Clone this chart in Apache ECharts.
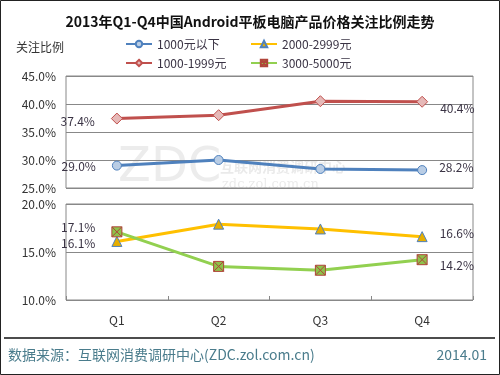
<!DOCTYPE html>
<html><head><meta charset="utf-8">
<script src="https://cdn.jsdelivr.net/npm/echarts@6/dist/echarts.min.js"></script>
<style>html,body{margin:0;padding:0;background:#fff}#c{width:500px;height:375px}</style>
</head><body><div id="c"></div>
<script>
const categories = ['Q1','Q2','Q3','Q4'];
const seriesNames = ['1000元以下','1000-1999元','2000-2999元','3000-5000元'];
const below1000 = [29.0, 30.0, 28.4, 28.2];
const s1000_1999 = [37.4, 38.0, 40.5, 40.4];
const s2000_2999 = [16.1, 17.9, 17.4, 16.6];
const s3000_5000 = [17.1, 13.5, 13.1, 14.2];
const upperTicks = [25, 45, 5];
const lowerTicks = [10, 20, 5];

const FONT = '"Noto Sans CJK SC", "Noto Sans", sans-serif';
const chart = echarts.init(document.getElementById('c'));

function items(arr, leftOff, rightOff) {
  return arr.map((v, i) => {
    if (i === 0) return {value: v, label: {show: true, position: 'left', distance: 16, offset: leftOff}};
    if (i === arr.length - 1) return {value: v, label: {show: true, position: 'right', distance: 12, offset: rightOff}};
    return v;
  });
}
const lbl = {show: false, formatter: p => p.value.toFixed(1) + '%', color: '#3a3344', fontSize: 12, fontFamily: FONT};
const xPath = 'path://M0,0L10,0L10,10L0,10ZM0,0L10,10M10,0L0,10';
const legendText = {fontSize: 12, color: '#3a3344', fontFamily: FONT};

chart.setOption({
  animation: false,
  backgroundColor: '#fff',
  title: {text: '2013年Q1-Q4中国Android平板电脑产品价格关注比例走势', left: 'center', top: 10,
    textStyle: {fontSize: 14, fontWeight: 'bold', color: '#111', fontFamily: FONT}},
  legend: [
    {left: 120, top: 33, orient: 'vertical', itemGap: 7, itemWidth: 26, itemHeight: 8,
     data: [seriesNames[0], seriesNames[1]], textStyle: legendText},
    {left: 245, top: 33, orient: 'vertical', itemGap: 7, itemWidth: 26, itemHeight: 8,
     data: [seriesNames[2], seriesNames[3]], textStyle: legendText}
  ],
  grid: [
    {left: 66, right: 27, top: 76, height: 112, show: true, borderColor: '#888', borderWidth: 1},
    {left: 66, right: 27, top: 204, height: 96, show: true, borderColor: '#888', borderWidth: 1}
  ],
  xAxis: [
    {gridIndex: 0, type: 'category', data: categories, boundaryGap: true, show: false},
    {gridIndex: 1, type: 'category', data: categories, boundaryGap: true,
     axisLine: {show: false}, axisTick: {show: true, inside: true, length: 4, lineStyle: {color: '#888'}},
     axisLabel: {color: '#333', fontSize: 12, margin: 14, fontFamily: FONT}}
  ],
  yAxis: [
    {gridIndex: 0, type: 'value', min: upperTicks[0], max: upperTicks[1], interval: upperTicks[2],
     axisLine: {show: false}, axisTick: {show: false},
     splitLine: {lineStyle: {color: '#888'}},
     axisLabel: {formatter: v => v.toFixed(1) + '%', color: '#333', fontSize: 12, margin: 10, fontFamily: FONT}},
    {gridIndex: 1, type: 'value', min: lowerTicks[0], max: lowerTicks[1], interval: lowerTicks[2],
     axisLine: {show: false}, axisTick: {show: false},
     splitLine: {lineStyle: {color: '#888'}},
     axisLabel: {formatter: v => v.toFixed(1) + '%', color: '#333', fontSize: 12, margin: 10, fontFamily: FONT}}
  ],
  series: [
    {name: seriesNames[0], type: 'line', xAxisIndex: 0, yAxisIndex: 0, data: items(below1000, [0, 1], [0, -3]),
     symbol: 'circle', symbolSize: 9, lineStyle: {color: '#4F81BD', width: 3},
     itemStyle: {color: '#B9CDE5', borderColor: '#4F81BD', borderWidth: 1}, label: lbl, z: 3},
    {name: seriesNames[1], type: 'line', xAxisIndex: 0, yAxisIndex: 0, data: items(s1000_1999, [0, 3], [0, 7]),
     symbol: 'diamond', symbolSize: 11, lineStyle: {color: '#C0504D', width: 3},
     itemStyle: {color: '#E6B9B8', borderColor: '#C0504D', borderWidth: 1}, label: lbl, z: 3},
    {name: seriesNames[2], type: 'line', xAxisIndex: 1, yAxisIndex: 1, data: items(s2000_2999, [0, 2], [0, -3]),
     symbol: 'triangle', symbolSize: 10, lineStyle: {color: '#FFC000', width: 3},
     itemStyle: {color: '#E6AE00', borderColor: '#4F81BD', borderWidth: 1}, label: lbl, z: 3},
    {name: seriesNames[3], type: 'line', xAxisIndex: 1, yAxisIndex: 1, data: items(s3000_5000, [0, -4], [0, 6]),
     symbol: xPath, symbolSize: 10, lineStyle: {color: '#92D050', width: 3},
     itemStyle: {color: '#8DC24A', borderColor: '#B0443A', borderWidth: 1}, label: lbl, z: 4}
  ],
  graphic: [
    {type: 'text', left: 118, top: 145, z: -1, style: {text: 'ZDC', font: '48px "DejaVu Sans"', fill: 'rgba(150,150,150,0.18)'}},
    {type: 'text', left: 220, top: 160, z: -1, style: {text: '互联网消费调研中心', font: 'bold 14px "Noto Sans CJK SC"', fill: 'rgba(150,150,150,0.2)'}},
    {type: 'text', left: 222, top: 178, z: -1, style: {text: 'zdc.zol.com.cn', font: '13px "DejaVu Serif"', fill: 'rgba(150,150,150,0.2)'}},
    {type: 'line', shape: {x1: 4, y1: 338, x2: 495, y2: 338}, style: {stroke: '#111', lineWidth: 1.5}},
    {type: 'text', left: 8, top: 348, style: {text: '数据来源：互联网消费调研中心(ZDC.zol.com.cn)', font: '14px ' + FONT, fill: '#4A7C8C'}},
    {type: 'text', right: 13, top: 348, style: {text: '2014.01', font: '14px ' + FONT, fill: '#4A7C8C'}},
    {type: 'text', left: 16, top: 41, style: {text: '关注比例', font: '12px ' + FONT, fill: '#333'}},
    {type: 'rect', shape: {x: 0.5, y: 0.5, width: 499, height: 374}, style: {fill: 'none', stroke: '#222', lineWidth: 1}}
  ]
});
</script></body></html>
